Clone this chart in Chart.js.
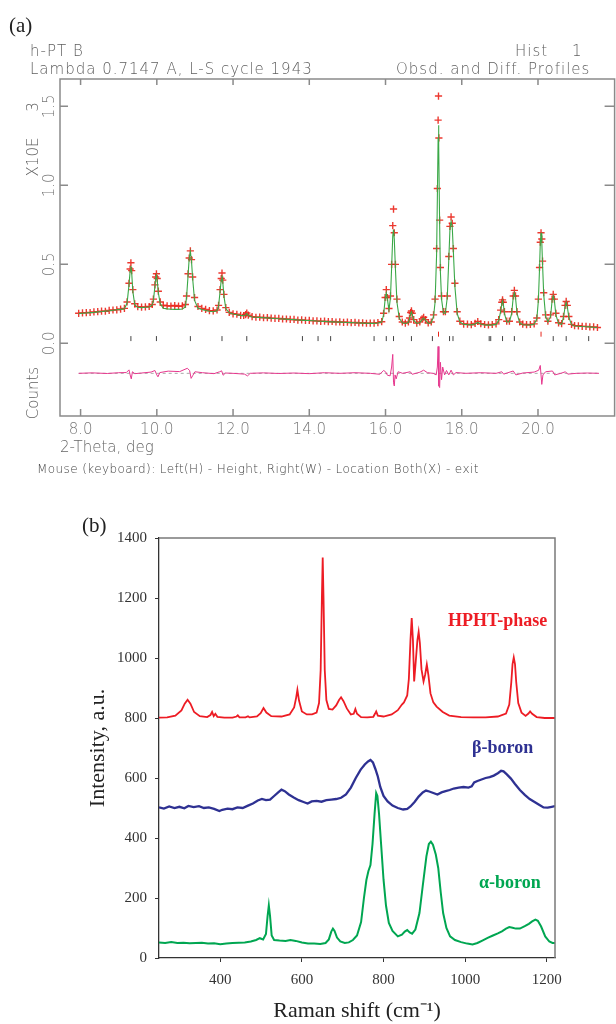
<!DOCTYPE html>
<html>
<head>
<meta charset="utf-8">
<title>h-PT B profile and Raman spectra</title>
<script src="https://cdn.jsdelivr.net/npm/chart.js@4.4.1/dist/chart.umd.min.js"></script>
<style>
  html, body { margin: 0; padding: 0; background: #fff; overflow: hidden; }
  #page { position: relative; width: 616px; height: 1024px; overflow: hidden; }
  canvas { position: absolute; left: 0; }
  .txt { position: absolute; white-space: pre; }
  .gsas { font-family: "DejaVu Sans", sans-serif; font-weight: 200; font-size: 15px; line-height: 16px; letter-spacing: 1px; color: #5f5f5f; }
  .serif { font-family: "Liberation Serif", "Times New Roman", serif; color: #222; }
  .panel { font-size: 21px; line-height: 22px; }
  .tag { font-weight: bold; font-size: 18px; line-height: 20px; }
  .rot { transform: rotate(-90deg); text-align: center; letter-spacing: 0; }
</style>
</head>
<body>
<div id="page">
  <canvas id="xrd" width="620" height="480" style="top:0"></canvas>
  <canvas id="raman" width="616" height="524" style="top:500px"></canvas>

  <div class="txt serif panel" style="left:9px;top:14px">(a)</div>
  <div class="txt gsas" style="left:30px;top:43px">h-PT B</div>
  <div class="txt gsas" style="left:30px;top:61px">Lambda 0.7147 A, L-S cycle 1943</div>
  <div class="txt gsas" style="left:515px;top:43px">Hist</div>
  <div class="txt gsas" style="left:572px;top:43px">1</div>
  <div class="txt gsas" style="left:396px;top:61px">Obsd. and Diff. Profiles</div>
  <div class="txt gsas rot" style="left:-17px;top:149px;width:100px">X10E</div>
  <div class="txt gsas rot" style="left:-17px;top:99px;width:100px">3</div>
  <div class="txt gsas rot" style="left:-17px;top:385px;width:100px">Counts</div>
  <div class="txt gsas" style="left:37px;top:461px;font-size:12px;letter-spacing:0.4px;color:#444">Mouse (keyboard): Left(H) - Height, Right(W) - Location Both(X) - exit</div>

  <div class="txt serif panel" style="left:82px;top:514px">(b)</div>
  <div class="txt serif tag" style="left:448px;top:610px;color:#ed1c24">HPHT-phase</div>
  <div class="txt serif tag" style="left:472px;top:737px;color:#2e3192">β-boron</div>
  <div class="txt serif tag" style="left:479px;top:872px;color:#00a651">α-boron</div>
</div>

<script>
// (a) powder profile, intensity in 10^3 counts
const thetaTicks = [8, 10, 12, 14, 16, 18, 20];
const countTicks = [0, 0.5, 1.0, 1.5];

const twoTheta = [
  7.95, 8.05, 8.15, 8.25, 8.35, 8.45, 8.55, 8.65, 8.75, 8.85, 8.95, 9.05, 9.15,
  9.22, 9.27, 9.30, 9.32, 9.34, 9.37, 9.42,
  9.50, 9.60, 9.70, 9.80, 9.88,
  9.91, 9.95, 9.97, 9.99, 10.01, 10.04, 10.09,
  10.17, 10.27, 10.37, 10.47, 10.57, 10.67, 10.75,
  10.78, 10.82, 10.85, 10.88, 10.91, 10.94, 10.99,
  11.08, 11.18, 11.28, 11.38, 11.48, 11.58,
  11.62, 11.66, 11.69, 11.71, 11.73, 11.76, 11.81,
  11.90, 12.00, 12.10, 12.20, 12.28,
  12.33, 12.36, 12.40,
  12.5, 12.6, 12.7, 12.8, 12.9, 13.0, 13.1, 13.2, 13.3, 13.4, 13.5, 13.6, 13.7, 13.8, 13.9, 14.0, 14.1, 14.2,
  14.3, 14.4, 14.5, 14.6, 14.7, 14.8, 14.9, 15.0, 15.1, 15.2, 15.3, 15.4, 15.5, 15.6, 15.7, 15.8, 15.9,
  15.95, 15.99, 16.02, 16.05, 16.09, 16.13, 16.16, 16.19, 16.21, 16.23, 16.26, 16.30, 16.36, 16.44,
  16.52, 16.60,
  16.63, 16.66, 16.68, 16.70, 16.74,
  16.82, 16.90,
  16.96, 17.00, 17.05,
  17.12, 17.20, 17.26,
  17.30, 17.34, 17.36, 17.38, 17.39, 17.40, 17.42, 17.44, 17.47, 17.52,
  17.57, 17.62, 17.66, 17.69, 17.72, 17.75, 17.78, 17.82, 17.88, 17.95,
  18.05, 18.15, 18.25, 18.35, 18.42, 18.50, 18.60, 18.70, 18.80, 18.90, 18.97,
  19.02, 19.05, 19.07, 19.09, 19.12, 19.18,
  19.25,
  19.31, 19.35, 19.38, 19.41, 19.45, 19.52,
  19.60, 19.70, 19.80, 19.90, 19.97,
  20.01, 20.04, 20.06, 20.08, 20.10, 20.12, 20.15, 20.20, 20.26,
  20.33, 20.37, 20.40, 20.43, 20.47, 20.54,
  20.62, 20.67, 20.71, 20.74, 20.77, 20.81, 20.88,
  20.96, 21.06, 21.16, 21.26, 21.36, 21.46, 21.56
];
const obsCounts = [
  0.190, 0.193, 0.194, 0.195, 0.199, 0.200, 0.204, 0.203, 0.208, 0.211, 0.212, 0.217, 0.221,
  0.262, 0.380, 0.470, 0.510, 0.460, 0.340, 0.250,
  0.232, 0.229, 0.231, 0.233, 0.246,
  0.280, 0.370, 0.420, 0.440, 0.410, 0.330, 0.262,
  0.241, 0.237, 0.236, 0.239, 0.235, 0.237, 0.246,
  0.300, 0.440, 0.540, 0.585, 0.530, 0.420, 0.290,
  0.233, 0.221, 0.215, 0.207, 0.205, 0.211,
  0.240, 0.340, 0.410, 0.445, 0.400, 0.310, 0.226,
  0.196, 0.187, 0.184, 0.177, 0.176,
  0.182, 0.192, 0.178,
  0.169, 0.165, 0.166, 0.162, 0.163, 0.159, 0.158, 0.158, 0.154, 0.154, 0.151, 0.151, 0.147, 0.148, 0.145, 0.145, 0.142, 0.142,
  0.139, 0.140, 0.137, 0.138, 0.135, 0.136, 0.133, 0.134, 0.131, 0.132, 0.129, 0.130, 0.127, 0.128, 0.128, 0.131, 0.137,
  0.190, 0.290, 0.340, 0.290, 0.220, 0.300, 0.500, 0.745, 0.850, 0.700, 0.500, 0.280, 0.170, 0.135,
  0.128, 0.135,
  0.160, 0.195, 0.205, 0.190, 0.150,
  0.128, 0.136,
  0.155, 0.165, 0.150,
  0.129, 0.135, 0.180,
  0.280, 0.600, 0.980, 1.413, 1.565, 1.300, 0.780, 0.480, 0.300, 0.200,
  0.200, 0.300, 0.550, 0.740, 0.800, 0.760, 0.600, 0.380, 0.200, 0.140,
  0.122, 0.121, 0.118, 0.126, 0.138, 0.124, 0.119, 0.117, 0.119, 0.123, 0.150,
  0.210, 0.260, 0.275, 0.260, 0.200, 0.140,
  0.140,
  0.200, 0.300, 0.335, 0.300, 0.200, 0.135,
  0.121, 0.118, 0.119, 0.123, 0.160,
  0.280, 0.480, 0.640, 0.700, 0.660, 0.520, 0.320, 0.180, 0.140,
  0.180, 0.280, 0.310, 0.280, 0.190, 0.130,
  0.125, 0.170, 0.240, 0.265, 0.240, 0.170, 0.120,
  0.112, 0.111, 0.107, 0.107, 0.104, 0.104, 0.100
];
const calcCounts = [
  0.188, 0.190, 0.192, 0.194, 0.196, 0.199, 0.201, 0.204, 0.206, 0.209, 0.212, 0.215, 0.219,
  0.255, 0.370, 0.458, 0.490, 0.450, 0.330, 0.245,
  0.228, 0.226, 0.228, 0.230, 0.243,
  0.270, 0.360, 0.410, 0.430, 0.400, 0.320, 0.250,
  0.222, 0.218, 0.216, 0.215, 0.215, 0.217, 0.230,
  0.290, 0.430, 0.540, 0.580, 0.520, 0.410, 0.272,
  0.222, 0.214, 0.208, 0.203, 0.200, 0.206,
  0.235, 0.330, 0.400, 0.430, 0.390, 0.300, 0.220,
  0.193, 0.186, 0.181, 0.176, 0.175,
  0.180, 0.188, 0.176,
  0.167, 0.165, 0.164, 0.162, 0.161, 0.159, 0.157, 0.156, 0.154, 0.153, 0.151, 0.150, 0.148, 0.147, 0.145, 0.144, 0.143, 0.141,
  0.140, 0.139, 0.137, 0.136, 0.135, 0.134, 0.133, 0.132, 0.131, 0.130, 0.129, 0.128, 0.127, 0.126, 0.126, 0.129, 0.134,
  0.180, 0.280, 0.320, 0.280, 0.210, 0.290, 0.480, 0.680, 0.720, 0.660, 0.470, 0.260, 0.160, 0.130,
  0.126, 0.132,
  0.155, 0.190, 0.200, 0.185, 0.145,
  0.126, 0.132,
  0.150, 0.160, 0.145,
  0.126, 0.130, 0.170,
  0.260, 0.560, 0.920, 1.300, 1.380, 1.250, 0.750, 0.450, 0.280, 0.190,
  0.190, 0.290, 0.530, 0.720, 0.770, 0.740, 0.580, 0.360, 0.190, 0.135,
  0.120, 0.118, 0.117, 0.122, 0.132, 0.122, 0.116, 0.115, 0.117, 0.120, 0.145,
  0.200, 0.250, 0.270, 0.250, 0.190, 0.135,
  0.135,
  0.190, 0.290, 0.320, 0.290, 0.190, 0.130,
  0.118, 0.116, 0.117, 0.120, 0.155,
  0.270, 0.470, 0.630, 0.700, 0.640, 0.500, 0.310, 0.170, 0.135,
  0.170, 0.270, 0.300, 0.270, 0.180, 0.125,
  0.120, 0.165, 0.230, 0.260, 0.230, 0.165, 0.118,
  0.110, 0.108, 0.106, 0.105, 0.104, 0.102, 0.100
];

// difference curve, drawn around its own offset line
const diffTheta = [
  7.95, 8.30, 8.70, 9.00, 9.20, 9.27, 9.30, 9.33, 9.36, 9.42,
  9.60, 9.85, 9.95, 10.00, 10.03, 10.08, 10.30, 10.60, 10.80, 10.86,
  10.90, 10.94, 11.00, 11.20, 11.50, 11.65, 11.70, 11.74, 11.80, 12.00,
  12.30, 12.38, 12.45, 12.80, 13.20, 13.60, 14.00, 14.40, 14.80, 15.20,
  15.60, 15.85, 15.95, 16.00, 16.05, 16.12, 16.16, 16.19, 16.21, 16.23,
  16.25, 16.28, 16.33, 16.45, 16.65, 16.70, 16.90, 17.00, 17.10, 17.25,
  17.33, 17.36, 17.38, 17.40, 17.42, 17.44, 17.47, 17.50, 17.55, 17.60,
  17.66, 17.72, 17.78, 17.85, 18.10, 18.50, 18.90, 19.05, 19.10, 19.35,
  19.42, 19.60, 19.90, 20.02, 20.06, 20.10, 20.13, 20.20, 20.38, 20.44,
  20.60, 20.72, 20.78, 21.00, 21.30, 21.60
];
const diffCounts = [
  -0.190, -0.187, -0.191, -0.186, -0.185, -0.168, -0.200, -0.225, -0.180, -0.192,
  -0.188, -0.182, -0.172, -0.200, -0.212, -0.185, -0.176, -0.179, -0.158, -0.172,
  -0.222, -0.205, -0.180, -0.186, -0.192, -0.180, -0.174, -0.202, -0.188, -0.190,
  -0.195, -0.206, -0.190, -0.187, -0.191, -0.188, -0.192, -0.186, -0.190, -0.186,
  -0.190, -0.196, -0.172, -0.180, -0.202, -0.206, -0.150, -0.070, -0.250, -0.270,
  -0.200, -0.225, -0.180, -0.190, -0.180, -0.196, -0.183, -0.170, -0.186, -0.190,
  -0.200, -0.150, -0.020, -0.270, -0.280, -0.120, -0.230, -0.150, -0.200, -0.172,
  -0.200, -0.170, -0.200, -0.185, -0.190, -0.186, -0.190, -0.180, -0.195, -0.175,
  -0.200, -0.188, -0.182, -0.170, -0.140, -0.260, -0.200, -0.180, -0.175, -0.200,
  -0.190, -0.180, -0.195, -0.190, -0.188, -0.190
];
const diffZero = -0.19;

// reflection markers
const reflMain = [9.32, 9.99, 10.88, 11.71, 12.36, 13.82, 14.23, 14.56, 15.70, 16.02, 16.21,
  16.68, 17.23, 17.68, 17.77, 18.72, 18.76, 19.07, 19.38, 20.40, 20.74, 21.33];
const reflExtra = [17.39, 20.08];
const reflLevel = 0.03;
const reflExtraLevel = 0.058;

// (b) Raman spectra
const shiftTicks = [400, 600, 800, 1000, 1200];
const intensityTicks = [0, 200, 400, 600, 800, 1000, 1200, 1400];

const hphtShift = [
  250, 270, 290, 305, 313, 320, 327, 336, 350, 368,
  376, 380, 384, 388, 393, 410, 430, 440, 443, 447,
  462, 468, 472, 490, 499, 506, 513, 525, 550, 570,
  581, 586, 589, 593, 600, 612, 625, 636, 642, 646,
  649, 651, 653, 656, 660, 666, 675, 684, 691, 696,
  702, 710, 720, 727, 731, 735, 745, 760, 775, 779,
  782, 786, 800, 820, 835, 845, 850, 858, 862, 866,
  869, 872, 875, 879, 883, 886, 889, 893, 898, 902,
  906, 910, 915, 922, 930, 945, 961, 990, 1020, 1050,
  1080, 1100, 1108, 1113, 1116, 1119, 1122, 1125, 1130, 1138,
  1148, 1155, 1159, 1164, 1175, 1195, 1220
];
const hphtIntensity = [
  801, 802, 808, 825, 848, 861, 848, 820, 806, 803,
  810, 820, 806, 814, 804, 801, 801, 805, 809, 802,
  802, 806, 802, 805, 816, 833, 818, 806, 805, 812,
  835, 868, 894, 858, 822, 812, 812, 818, 850, 960,
  1200, 1335, 1200, 960, 860, 830, 828, 842, 860, 869,
  856, 832, 812, 814, 830, 814, 803, 802, 804, 814,
  822, 808, 805, 812, 826, 845, 852, 875, 930, 1060,
  1133, 1060, 922, 990, 1060, 1087, 1050, 962, 922, 945,
  978, 942, 882, 852, 838, 820, 808, 803, 802, 802,
  805, 815, 845, 920, 980, 1002, 980, 920, 850, 818,
  807, 815, 822, 814, 803, 800, 800
];

const betaShift = [
  250, 262, 275, 288, 300, 312, 322, 335, 348, 360,
  372, 385, 398, 405, 418, 430, 442, 455, 468, 480,
  492, 502, 512, 522, 532, 542, 550, 558, 568, 580,
  592, 604, 614, 624, 636, 648, 660, 672, 684, 696,
  708, 720, 732, 744, 754, 762, 768, 774, 780, 786,
  792, 800, 810, 822, 835, 848, 858, 866, 876, 886,
  896, 904, 912, 922, 932, 942, 952, 962, 972, 984,
  996, 1008, 1016, 1022, 1030, 1040, 1050, 1060, 1070, 1080,
  1088, 1094, 1102, 1112, 1122, 1134, 1146, 1158, 1170, 1182,
  1192, 1202, 1212, 1220
];
const betaIntensity = [
  502, 498, 505, 500, 504, 499, 507, 503, 506, 500,
  502, 497, 490, 494, 498, 496, 502, 500, 508, 515,
  525, 530, 526, 528, 540, 552, 561, 556, 545, 535,
  526, 520, 515, 522, 524, 521, 526, 528, 530, 534,
  545, 568, 600, 628, 645, 655, 660, 652, 630, 605,
  570, 540, 522, 508, 500, 495, 497, 505, 520, 538,
  552, 558, 555, 550, 545, 552, 556, 560, 565, 568,
  570, 568, 572, 585, 590, 595, 600, 603, 608, 616,
  624, 622, 612, 598, 580, 560, 544, 530, 520, 510,
  502, 501, 504, 506
];

const alphaShift = [
  250, 265, 280, 295, 310, 325, 340, 355, 370, 385,
  400, 415, 430, 445, 460, 475, 488, 497, 505, 512,
  516, 519, 522, 526, 532, 545, 560, 572, 585, 600,
  615, 630, 645, 658, 666, 672, 676, 680, 686, 694,
  705, 715, 725, 735, 745, 752, 758, 763, 768, 773,
  778, 782, 785, 789, 794, 800, 806, 813, 822, 835,
  845, 852, 858, 864, 870, 878, 888, 896, 905, 911,
  916, 921, 928, 934, 940, 946, 954, 963, 975, 990,
  1005, 1018, 1030, 1042, 1055, 1068, 1080, 1090, 1100, 1108,
  1116, 1124, 1134, 1146, 1156, 1164, 1172, 1178, 1186, 1196,
  1206, 1214, 1220
];
const alphaIntensity = [
  52, 50, 53, 50, 51, 49, 50, 51, 48, 49,
  46, 48, 50, 51, 52, 55, 60, 66, 62, 80,
  140, 175, 140, 75, 60, 58, 57, 60, 57, 52,
  48, 48, 47, 50, 62, 88, 98, 90, 68, 55,
  50, 52, 60, 75, 120, 200, 260, 290, 310, 380,
  480, 550, 540, 480, 380, 261, 175, 117, 90, 72,
  78, 88, 93, 85, 81, 95, 150, 240, 339, 380,
  388, 378, 345, 300, 220, 150, 100, 72, 60, 53,
  48, 45, 50, 58, 67, 75, 82, 89, 98, 103,
  101, 98, 98, 106, 114, 122, 128, 124, 105, 72,
  55, 50, 50
];

const pts = (xs, ys) => xs.map((x, i) => ({ x: x, y: ys[i] }));
const gsasFont = { family: 'DejaVu Sans', size: 15, weight: '200' };
const serifFamily = '"Liberation Serif", "Times New Roman", serif';

// frame, inward ticks and rotated count labels of the GSAS plot
const gsasFrame = {
  id: 'gsasFrame',
  afterDraw(chart) {
    const { ctx, chartArea: a } = chart;
    const x = chart.scales.x, y = chart.scales.y;
    ctx.save();
    ctx.strokeStyle = '#8a8a8a';
    ctx.lineWidth = 1.5;
    ctx.strokeRect(a.left, a.top, a.right - a.left, a.bottom - a.top);
    ctx.beginPath();
    thetaTicks.forEach(v => {
      const px = x.getPixelForValue(v);
      ctx.moveTo(px, a.bottom); ctx.lineTo(px, a.bottom - 7);
      ctx.moveTo(px, a.top); ctx.lineTo(px, a.top + 6);
    });
    countTicks.forEach(v => {
      const py = y.getPixelForValue(v);
      ctx.moveTo(a.left, py); ctx.lineTo(a.left + 8, py);
      ctx.moveTo(a.right, py); ctx.lineTo(a.right - 10, py);
    });
    ctx.stroke();
    ctx.fillStyle = '#777';
    ctx.font = '200 15px "DejaVu Sans"';
    ctx.textAlign = 'center';
    ctx.textBaseline = 'middle';
    countTicks.forEach(v => {
      ctx.save();
      ctx.translate(a.left - 10, y.getPixelForValue(v));
      ctx.rotate(-Math.PI / 2);
      ctx.fillText(v.toFixed(1), 0, 0);
      ctx.restore();
    });
    ctx.restore();
  }
};

new Chart(document.getElementById('xrd'), {
  type: 'scatter',
  data: {
    datasets: [
      { label: 'Calc', type: 'line', showLine: true, data: pts(twoTheta, calcCounts),
        borderColor: '#3aa847', borderWidth: 1.1, pointRadius: 0, order: 0 },
      { label: 'Obs', data: pts(twoTheta, obsCounts), pointStyle: 'cross', pointRadius: 3.6,
        borderColor: 'rgba(234,36,26,0.9)', borderWidth: 1.4, order: 1 },
      { label: 'Diff', type: 'line', showLine: true, data: pts(diffTheta, diffCounts),
        borderColor: '#e6378d', borderWidth: 1, pointRadius: 0, order: 2 },
      { label: 'Zero', type: 'line', showLine: true,
        data: [{ x: twoTheta[0], y: diffZero }, { x: twoTheta[twoTheta.length - 1], y: diffZero }],
        borderColor: '#aaa', borderDash: [3, 3], borderWidth: 1, pointRadius: 0, order: 3 },
      { label: 'Refl', data: reflMain.map(t => ({ x: t, y: reflLevel })), pointStyle: 'line',
        rotation: 90, pointRadius: 2.5, borderColor: '#444', borderWidth: 1, order: 4 },
      { label: 'Refl2', data: reflExtra.map(t => ({ x: t, y: reflExtraLevel })), pointStyle: 'line',
        rotation: 90, pointRadius: 2.5, borderColor: '#e8261c', borderWidth: 1, order: 5 }
    ]
  },
  options: {
    responsive: false,
    animation: false,
    events: [],
    layout: { padding: { top: 79, right: 0, left: 0, bottom: 0 } },
    plugins: { legend: { display: false }, tooltip: { enabled: false } },
    scales: {
      x: {
        type: 'linear', min: 7.46, max: 22.01,
        grid: { display: false }, border: { display: false },
        afterBuildTicks: s => { s.ticks = thetaTicks.map(v => ({ value: v })); },
        ticks: { color: '#777', font: gsasFont, padding: -3, maxRotation: 0, callback: v => Number(v).toFixed(1) },
        title: { display: true, text: '2-Theta, deg', align: 'start', color: '#666', font: gsasFont, padding: { top: 0, bottom: 23 } },
        afterFit: s => { s.height = 64; }
      },
      y: {
        min: -0.46, max: 1.673,
        grid: { display: false }, border: { display: false },
        ticks: { display: false },
        afterFit: s => { s.width = 60; }
      }
    }
  },
  plugins: [gsasFrame]
});

// grey top/right edges of the Raman box
const boxTopRight = {
  id: 'boxTopRight',
  afterDraw(chart) {
    const { ctx, chartArea: a } = chart;
    ctx.save();
    ctx.strokeStyle = '#7a7a7a';
    ctx.lineWidth = 1.5;
    ctx.beginPath();
    ctx.moveTo(a.left, a.top); ctx.lineTo(a.right, a.top); ctx.lineTo(a.right, a.bottom);
    ctx.stroke();
    ctx.restore();
  }
};

new Chart(document.getElementById('raman'), {
  type: 'line',
  data: {
    datasets: [
      { label: 'HPHT-phase', data: pts(hphtShift, hphtIntensity), borderColor: '#ed1c24', borderWidth: 1.8, pointRadius: 0 },
      { label: 'β-boron', data: pts(betaShift, betaIntensity), borderColor: '#2e3192', borderWidth: 2.3, pointRadius: 0 },
      { label: 'α-boron', data: pts(alphaShift, alphaIntensity), borderColor: '#00a651', borderWidth: 2, pointRadius: 0 }
    ]
  },
  options: {
    responsive: false,
    animation: false,
    events: [],
    layout: { padding: { top: 38, right: 61, left: 0, bottom: 0 } },
    plugins: { legend: { display: false }, tooltip: { enabled: false } },
    scales: {
      x: {
        type: 'linear', min: 250, max: 1220,
        afterBuildTicks: s => { s.ticks = shiftTicks.map(v => ({ value: v })); },
        grid: { drawOnChartArea: false, tickLength: 4, color: '#333' },
        border: { color: '#333', width: 1.3 },
        ticks: { color: '#333', font: { family: serifFamily, size: 15 }, padding: 9, maxRotation: 0, callback: v => String(v) },
        title: { display: true, text: 'Raman shift (cm⁻¹)', color: '#222', font: { family: serifFamily, size: 22 }, padding: { top: 0, bottom: 0 } },
        afterFit: s => { s.height = 66; }
      },
      y: {
        min: 0, max: 1400,
        afterBuildTicks: s => { s.ticks = intensityTicks.map(v => ({ value: v })); },
        grid: { drawOnChartArea: false, tickLength: 4, color: '#333' },
        border: { color: '#333', width: 1.3 },
        ticks: { color: '#333', font: { family: serifFamily, size: 15 }, padding: 8, callback: v => String(v) },
        title: { display: true, text: 'Intensity, a.u.', color: '#222', font: { family: serifFamily, size: 22 }, padding: { top: 85, bottom: 0 } },
        afterFit: s => { s.width = 159; }
      }
    }
  },
  plugins: [boxTopRight]
});
</script>
</body>
</html>
